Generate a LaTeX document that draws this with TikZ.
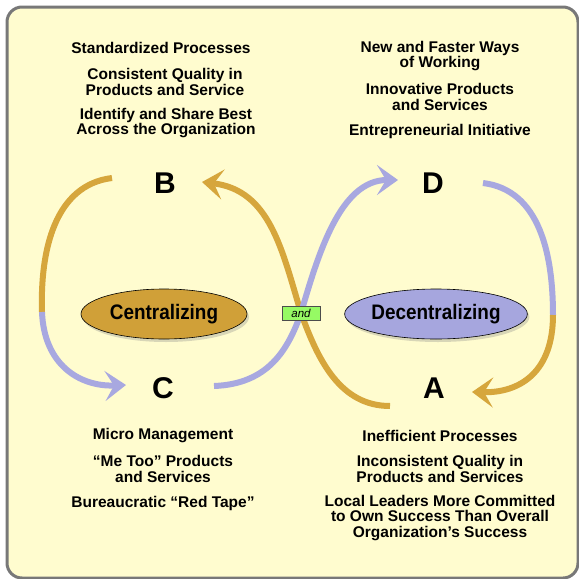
\documentclass[tikz,border=0pt]{standalone}
\usepackage{fontspec}
\setmainfont{Liberation Sans}
\newfontfamily\narrowsans[FakeStretch=0.9]{Liberation Sans}
\usetikzlibrary{arrows.meta,shapes.geometric,shadows}
\definecolor{panelbg}{RGB}{255,252,207}
\definecolor{panelline}{RGB}{120,120,120}
\definecolor{goldc}{RGB}{214,166,60}
\definecolor{purplec}{RGB}{168,168,224}
\definecolor{goldfill}{RGB}{208,160,56}
\definecolor{purplefill}{RGB}{166,166,222}
\definecolor{andgreen}{RGB}{150,250,100}
\tikzset{
  txt/.style={align=center,font=\fontsize{15.5}{15.5}\selectfont\bfseries,inner sep=0pt},
  letter/.style={font=\fontsize{30}{30}\selectfont\bfseries,inner sep=0pt},
  oval/.style={ellipse,draw=black,line width=0.6pt,minimum width=166pt,minimum height=50pt,inner sep=0pt,
    font=\narrowsans\fontsize{21}{21}\selectfont\bfseries,
    drop shadow={opacity=0.3,shadow xshift=2pt,shadow yshift=-3pt}},
  flow/.style={line width=6pt},
  tip/.style={-{Stealth[length=21pt,width=30pt,inset=9pt]}},
  andbox/.style={rectangle,draw=black!70,fill=andgreen,line width=0.6pt,minimum width=38pt,minimum height=14pt,inner sep=0pt,
    font=\fontsize{11.5}{11.5}\selectfont\itshape}
}
\begin{document}
\begin{tikzpicture}[x=1pt,y=-1pt]
\useasboundingbox (0,0) rectangle (579,579);
\fill[white] (0,0) rectangle (579,579);
\draw[panelline,line width=3pt,fill=panelbg,rounded corners=15pt] (7,7) rectangle (578,578);

% top texts
\node[txt] (t1) at (161,48) {Standardized Processes};
\node[txt] (t2) at (165,82) {Consistent Quality in\\Products and Service};
\node[txt] (t3) at (166,123) {Identify and Share Best\\Across the Organization};
\node[txt] (t4) at (440,56) {New and Faster Ways\\of Working};
\node[txt] (t5) at (440,97) {Innovative Products\\and Services};
\node[txt] (t6) at (440,131) {Entrepreneurial Initiative};
% bottom texts
\node[txt] (b1) at (163,436) {Micro Management};
\node[txt] (b2) at (163,469) {“Me Too” Products\\and Services};
\node[txt] (b3) at (163,503) {Bureaucratic “Red Tape”};
\node[txt] (b4) at (440,436) {Inefficient Processes};
\node[txt] (b5) at (440,469) {Inconsistent Quality in\\Products and Services};
\node[txt] (b6) at (440,518) {Local Leaders More Committed\\to Own Success Than Overall\\Organization’s Success};

% letters
\node[letter] (B) at (165,183) {B};
\node[letter] (D) at (433,183) {D};
\node[letter] (C) at (163,388) {C};
\node[letter] (A) at (434,388) {A};

% curve anchor coordinates
\coordinate (Lstart) at (112,178);
\coordinate (Lmid) at (42,312);
\coordinate (Ltip) at (126,385);
\coordinate (Rstart) at (483,183);
\coordinate (Rmid) at (553,315);
\coordinate (Rtip) at (472,392);
\coordinate (Gstart) at (390,406);
\coordinate (X) at (301,313);
\coordinate (Gtip) at (202,182);
\coordinate (Pstart) at (214,386);
\coordinate (Ptip) at (398,180);

% left loop
\draw[flow,goldc] (Lstart) .. controls (55,185) and (40,250) .. (Lmid);
\draw[flow,purplec,tip] (Lmid) .. controls (44,365) and (80,387) .. (Ltip);
% right loop
\draw[flow,purplec] (Rstart) .. controls (540,190) and (553,255) .. (Rmid);
\draw[flow,goldc,tip] (Rmid) .. controls (553,372) and (520,393) .. (Rtip);
% S curves
\draw[flow,goldc,tip] (Gstart) .. controls (340,406) and (318,360) .. (X)
   .. controls (282,250) and (270,190) .. (Gtip);
\draw[flow,purplec,tip] (Pstart) .. controls (268,384) and (288,350) .. (X)
   .. controls (318,255) and (340,180) .. (Ptip);

% ellipses
\node[oval,fill=goldfill] (cen) at (164,314) {Centralizing};
\node[oval,fill=purplefill,minimum width=168pt] (dec) at (436,314) {Decentralizing};
\node[andbox] (and) at (301,313) {and};
\end{tikzpicture}
\end{document}
